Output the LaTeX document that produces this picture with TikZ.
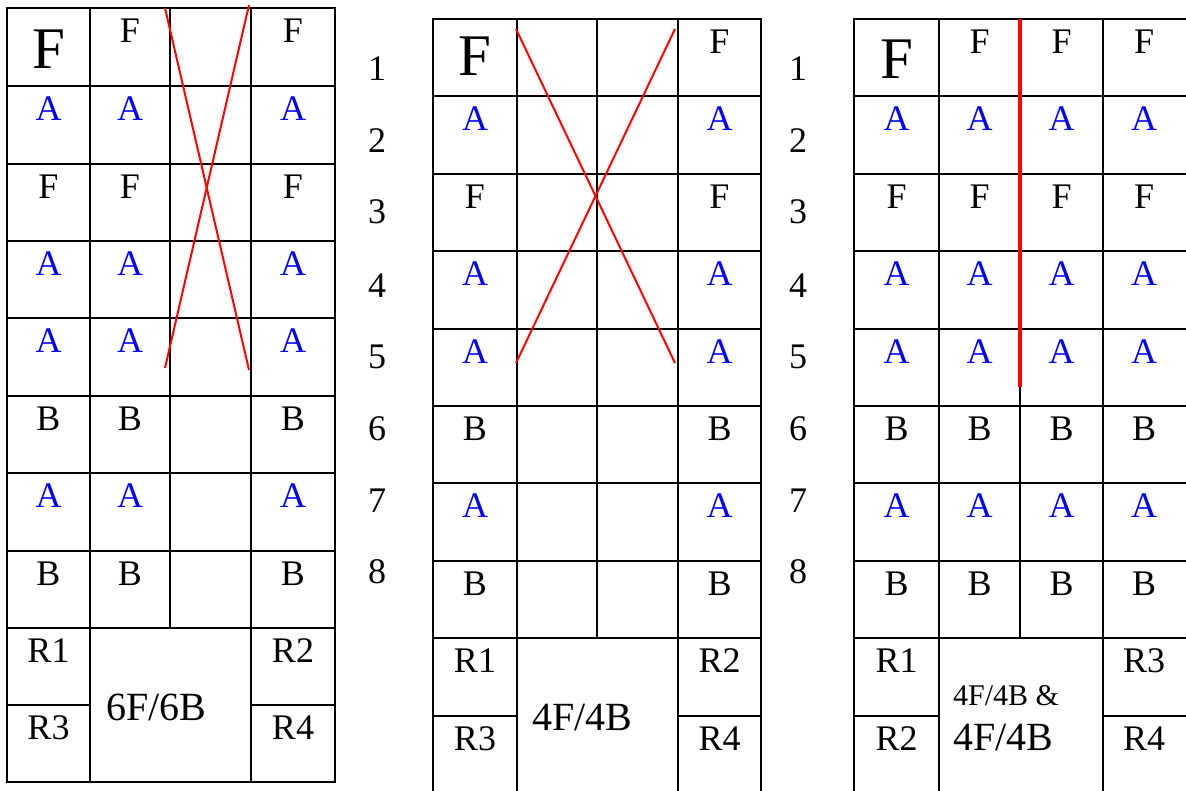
\documentclass[tikz,border=0pt]{standalone}
\usepackage{fontspec}
\setmainfont{Liberation Serif}
\newfontfamily\tms{Liberation Serif}
\definecolor{ablue}{RGB}{0,0,255}
\definecolor{xred}{RGB}{255,0,0}
\begin{document}
\begin{tikzpicture}[x=1pt,y=-1pt,
  gridline/.style={line width=2pt,black},
  redx/.style={line width=2pt,xred},
  redv/.style={line width=3.5pt,xred},
  cell/.style={anchor=base,inner sep=0pt,font=\tms\fontsize{36}{36}\selectfont},
  bigF/.style={anchor=base,inner sep=0pt,font=\tms\fontsize{59}{59}\selectfont},
  rlabel/.style={anchor=base,inner sep=0pt,font=\tms\fontsize{36}{36}\selectfont},
  combo/.style={anchor=base west,inner sep=0pt,font=\tms\fontsize{40}{40}\selectfont},
  combosmall/.style={anchor=base west,inner sep=0pt,font=\tms\fontsize{30}{30}\selectfont},
  rownum/.style={anchor=base,inner sep=0pt,font=\tms\fontsize{36}{36}\selectfont}]
\useasboundingbox (0,0) rectangle (1186,790);
\clip (0,0) rectangle (1186,790);
\fill[white] (0,0) rectangle (1186,790);

% ---------- Grid 1 ----------
\draw[gridline] (7,8) rectangle (335,782);
\foreach \y in {86,164,241,318,396,473,551,628} \draw[gridline] (7,\y) -- (335,\y);
\draw[gridline] (90,8) -- (90,782);
\draw[gridline] (251,8) -- (251,782);
\draw[gridline] (170,8) -- (170,628);
\draw[gridline] (7,705) -- (90,705);
\draw[gridline] (251,705) -- (335,705);
\node[bigF] (g1f) at (48.5,68) {F};
\foreach \L/\c/\y [count=\i] in {F/black/42,A/ablue/120,F/black/198,A/ablue/275,A/ablue/352,B/black/430,A/ablue/507,B/black/585}{
  \ifnum\i>1 \node[cell,text=\c] (g1a\i) at (48.5,\y) {\L};\fi
  \node[cell,text=\c] (g1b\i) at (130,\y) {\L};
  \node[cell,text=\c] (g1d\i) at (293,\y) {\L};
}
\node[rlabel] (g1r1) at (48.5,662) {R1};
\node[rlabel] (g1r3) at (48.5,739) {R3};
\node[rlabel] (g1r2) at (293,662) {R2};
\node[rlabel] (g1r4) at (293,739) {R4};
\node[combo] (g1m) at (106,720) {6F/6B};
\draw[redx] (165,8) -- (249,370);
\draw[redx] (249,5) -- (165,368);

% ---------- Row numbers ----------
\foreach \n/\y in {1/80,2/152,3/223,4/297,5/368,6/440,7/512,8/583}{
  \node[rownum] (na\n) at (377,\y) {\n};
  \node[rownum] (nb\n) at (798,\y) {\n};
}

% ---------- Grid 2 ----------
\draw[gridline] (433,19) rectangle (761,793);
\foreach \y in {96,174,251,329,406,483,561,638} \draw[gridline] (433,\y) -- (761,\y);
\draw[gridline] (517,19) -- (517,793);
\draw[gridline] (678,19) -- (678,793);
\draw[gridline] (597,19) -- (597,638);
\draw[gridline] (433,716) -- (517,716);
\draw[gridline] (678,716) -- (761,716);
\node[bigF] (g2f) at (475,75) {F};
\foreach \L/\c/\y [count=\i] in {F/black/53,A/ablue/130,F/black/208,A/ablue/285,A/ablue/363,B/black/440,A/ablue/517,B/black/595}{
  \ifnum\i>1 \node[cell,text=\c] (g2a\i) at (475,\y) {\L};\fi
  \node[cell,text=\c] (g2d\i) at (719.5,\y) {\L};
}
\node[rlabel] (g2r1) at (475,672) {R1};
\node[rlabel] (g2r3) at (475,750) {R3};
\node[rlabel] (g2r2) at (719.5,672) {R2};
\node[rlabel] (g2r4) at (719.5,750) {R4};
\node[combo] (g2m) at (532,730) {4F/4B};
\draw[redx] (516,29) -- (675,363);
\draw[redx] (675,29) -- (516,363);

% ---------- Grid 3 ----------
\draw[gridline] (854,19) rectangle (1188,793);
\foreach \y in {96,174,251,329,406,483,561,638} \draw[gridline] (854,\y) -- (1188,\y);
\draw[gridline] (939,19) -- (939,793);
\draw[gridline] (1103,19) -- (1103,793);
\draw[gridline] (1020,19) -- (1020,638);
\draw[gridline] (854,716) -- (939,716);
\draw[gridline] (1103,716) -- (1188,716);
\node[bigF] (g3f) at (896.5,78) {F};
\foreach \L/\c/\y [count=\i] in {F/black/53,A/ablue/130,F/black/208,A/ablue/285,A/ablue/363,B/black/440,A/ablue/517,B/black/595}{
  \ifnum\i>1 \node[cell,text=\c] (g3a\i) at (896.5,\y) {\L};\fi
  \node[cell,text=\c] (g3b\i) at (979.5,\y) {\L};
  \node[cell,text=\c] (g3c\i) at (1061.5,\y) {\L};
  \node[cell,text=\c] (g3d\i) at (1144,\y) {\L};
}
\node[rlabel] (g3r1) at (896.5,672) {R1};
\node[rlabel] (g3r2) at (896.5,750) {R2};
\node[rlabel] (g3r3) at (1144,672) {R3};
\node[rlabel] (g3r4) at (1144,750) {R4};
\node[combosmall] (g3ms) at (953,705) {4F/4B \&};
\node[combo] (g3m) at (953,750) {4F/4B};
\draw[redv] (1020,19) -- (1020,387);
\end{tikzpicture}
\end{document}
